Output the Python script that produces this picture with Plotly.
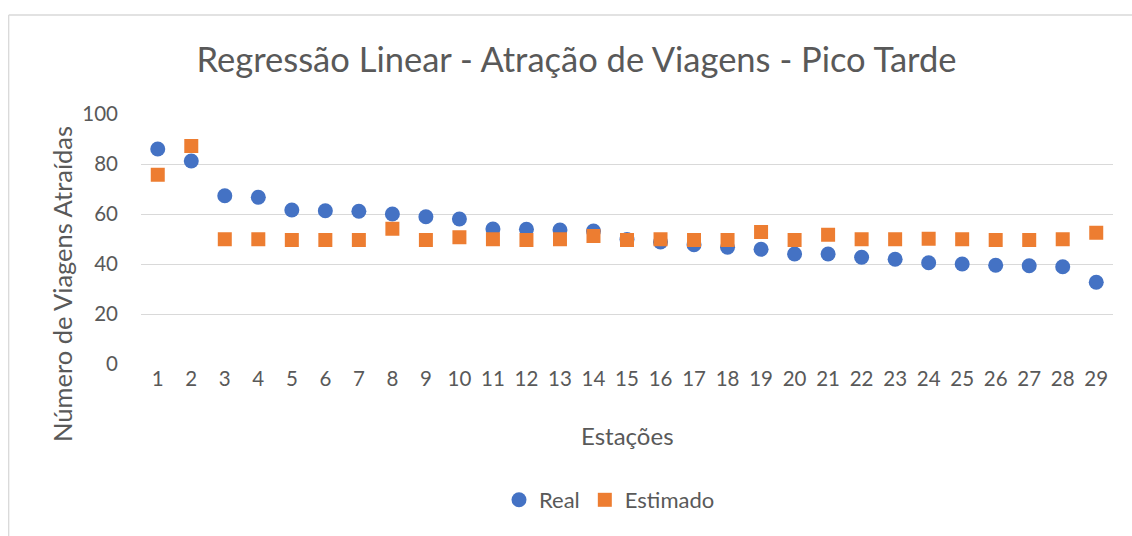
import plotly.graph_objects as go

estacoes = [str(i) for i in range(1, 30)]
real = [86.0, 81.2, 67.3, 66.7, 61.6, 61.3, 61.1, 60.0, 58.9, 58.0,
        54.0, 53.9, 53.6, 53.2, 49.8, 48.8, 47.7, 46.7, 45.9, 44.0,
        44.0, 42.7, 41.9, 40.5, 40.0, 39.5, 39.3, 38.9, 32.7]
estimado = [75.7, 87.2, 49.9, 49.9, 49.6, 49.6, 49.6, 54.1, 49.6, 50.7,
            49.9, 49.6, 49.9, 51.2, 49.6, 49.9, 49.6, 49.6, 52.8, 49.6,
            51.7, 49.9, 49.9, 50.1, 49.9, 49.6, 49.6, 49.9, 52.5]
y_ticks = [0, 20, 40, 60, 80, 100]

FONT = "Lato"
TXT = "#595959"

W, H = 1132, 536
PL, PT, PW, PH = 141, 114, 972, 250

fig = go.Figure()
fig.add_trace(go.Scatter(x=estacoes, y=real, mode="markers", name="Real",
                         marker=dict(symbol="circle", size=15, color="#4472C4")))
fig.add_trace(go.Scatter(x=estacoes, y=estimado, mode="markers", name="Estimado",
                         marker=dict(symbol="square", size=14, color="#ED7D31")))

fig.update_layout(
    width=W, height=H,
    margin=dict(l=PL, r=W - PL - PW, t=PT, b=H - PT - PH, pad=0, autoexpand=False),
    paper_bgcolor="white", plot_bgcolor="white",
    font=dict(family=FONT, color=TXT, size=20),
    title=dict(text="Regressão Linear - Atração de Viagens - Pico Tarde",
               x=576.5 / W, xanchor="center", y=1 - 60 / H, yanchor="middle",
               font=dict(family=FONT, size=34.5, color=TXT)),
    showlegend=True,
    legend=dict(orientation="h", xref="container", yref="container",
                x=609.5 / W, xanchor="center", y=1 - 500 / H, yanchor="middle",
                font=dict(family=FONT, size=22, color=TXT), itemwidth=30,
                traceorder="normal", bgcolor="rgba(0,0,0,0)"),
    xaxis=dict(type="category", range=[-0.5, 28.5], showgrid=False, showline=False,
               zeroline=False, ticks="", tickfont=dict(size=20.5, color=TXT),
               ticklabelstandoff=0),
    yaxis=dict(range=[0, 100], tickvals=y_ticks, showgrid=True, gridcolor="#D9D9D9",
               gridwidth=1.3, zeroline=False, showline=False, ticks="",
               tickfont=dict(size=20.5, color=TXT), ticklabelstandoff=22),
    annotations=[
        dict(text="Número de Viagens Atraídas", xref="paper", yref="paper",
             x=(62 - PL) / PW, y=(364 - 284) / PH, textangle=-90, showarrow=False,
             xanchor="center", yanchor="middle", font=dict(size=25.5, color=TXT)),
        dict(text="Estações", xref="paper", yref="paper",
             x=0.5, y=(364 - 435) / PH, showarrow=False,
             xanchor="center", yanchor="middle", font=dict(size=24, color=TXT)),
    ],
    shapes=[
        dict(type="line", xref="paper", yref="paper",
             x0=(8.7 - PL) / PW, x1=(1145 - PL) / PW,
             y0=(364 - 15) / PH, y1=(364 - 15) / PH,
             line=dict(color="#D9D9D9", width=1.3), layer="below"),
        dict(type="line", xref="paper", yref="paper",
             x0=(8.7 - PL) / PW, x1=(8.7 - PL) / PW,
             y0=(364 - 15) / PH, y1=(364 - 550) / PH,
             line=dict(color="#D9D9D9", width=1.3), layer="below"),
    ],
)

fig.write_html(
    "out.html",
    config={"displayModeBar": False},
    post_script="document.body.style.margin='0';document.documentElement.style.overflow='hidden';document.body.style.overflow='hidden';",
)
